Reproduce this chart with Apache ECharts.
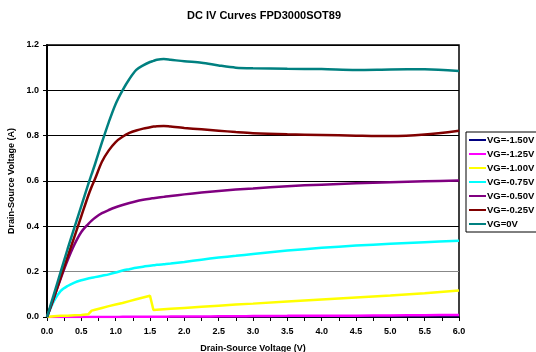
<!DOCTYPE html>
<html>
<head>
<meta charset="utf-8">
<script src="https://cdn.jsdelivr.net/npm/echarts@6/dist/echarts.min.js"></script>
<style>html,body{margin:0;padding:0;background:#fff}#c{width:536px;height:352px}</style>
</head>
<body>
<div id="c"></div>
<script>
var vds = [0,0.1,0.2,0.3,0.4,0.5,0.6,0.65,0.7,0.8,0.9,1.0,1.1,1.2,1.3,1.4,1.5,1.55,1.6,1.7,1.8,2.0,2.25,2.5,2.75,3.0,3.5,4.0,4.5,5.0,5.5,6.0];
var vgM150 = [0,0,0,0,0,0,0,0,0,0,0,0,0,0,0,0,0,0,0,0,0,0,0,0,0,0,0,0,0,0,0,0];
var vgM125 = [0,0,0,0,0,0,0,0,0,0,0,0,0.001,0.001,0.001,0.001,0.001,0.001,0.001,0.001,0.002,0.002,0.002,0.003,0.003,0.004,0.005,0.006,0.006,0.007,0.008,0.009];
var vgM100 = [0,0.003,0.005,0.006,0.008,0.009,0.012,0.028,0.032,0.04,0.048,0.055,0.062,0.07,0.078,0.086,0.094,0.031,0.032,0.034,0.036,0.04,0.045,0.05,0.055,0.059,0.068,0.077,0.086,0.095,0.105,0.117];
var vgM075 = [0,0.07,0.115,0.137,0.152,0.162,0.17,0.173,0.176,0.182,0.188,0.196,0.205,0.211,0.217,0.222,0.226,0.228,0.23,0.233,0.236,0.243,0.253,0.262,0.27,0.278,0.293,0.305,0.315,0.323,0.33,0.336];
var vgM050 = [0,0.085,0.17,0.25,0.32,0.375,0.41,0.425,0.438,0.458,0.472,0.484,0.494,0.503,0.511,0.517,0.522,0.524,0.526,0.53,0.534,0.541,0.549,0.556,0.562,0.567,0.577,0.584,0.59,0.595,0.599,0.602];
var vgM025 = [0,0.085,0.175,0.265,0.355,0.445,0.535,0.575,0.61,0.685,0.735,0.772,0.795,0.812,0.823,0.831,0.837,0.84,0.842,0.843,0.84,0.834,0.828,0.822,0.816,0.811,0.806,0.803,0.8,0.798,0.805,0.822];
var vg0 = [0,0.1,0.2,0.3,0.395,0.49,0.585,0.63,0.675,0.77,0.86,0.94,1.0,1.05,1.09,1.11,1.125,1.13,1.135,1.138,1.135,1.128,1.122,1.11,1.1,1.097,1.095,1.094,1.09,1.092,1.093,1.085];
var seriesNames = ['VG=-1.50V','VG=-1.25V','VG=-1.00V','VG=-0.75V','VG=-0.50V','VG=-0.25V','VG=0V'];
var seriesData = [vgM150, vgM125, vgM100, vgM075, vgM050, vgM025, vg0];
var colors = ['#000080','#FF00FF','#FFFF00','#00FFFF','#800080','#800000','#008080'];
var widths = [1,2.5,2.5,2.5,2.5,2.5,2.5];

var font = 'Liberation Sans, Arial, sans-serif';
var chart = echarts.init(document.getElementById('c'));
var series = seriesNames.map(function(n, i){
  return {
    name: n, type: 'line', symbol: 'none', smooth: i === 2 ? false : 0.3,
    data: vds.map(function(x, j){ return [x, seriesData[i][j]]; }),
    lineStyle: {color: colors[i], width: widths[i]},
    itemStyle: {color: colors[i]},
    animation: false
  };
});
chart.setOption({
  animation: false,
  backgroundColor: '#fff',
  title: {
    text: 'DC IV Curves FPD3000SOT89', left: 182, top: 5,
    textStyle: {fontFamily: font, fontSize: 11, fontWeight: 'bold', color: '#000'}
  },
  grid: {left: 47, top: 45, width: 412, height: 272, show: true, borderColor: '#000', borderWidth: 1.5, backgroundColor: '#fff', containLabel: false, outerBoundsMode: 'none'},
  legend: {
    orient: 'vertical', left: 466, top: 132,
    data: seriesNames,
    itemWidth: 17, itemHeight: 10, itemGap: 4,
    padding: [3, 20, 3, 2],
    borderColor: '#000', borderWidth: 1,
    itemStyle: {opacity: 0},
    textStyle: {fontFamily: font, fontSize: 9.5, fontWeight: 'bold', color: '#000', lineHeight: 10, padding: [0,0,0,-4]}
  },
  xAxis: {
    type: 'value', min: 0, max: 6, interval: 0.25,
    name: 'Drain-Source Voltage (V)', nameLocation: 'middle', nameGap: 27,
    nameTextStyle: {fontFamily: font, fontSize: 9, fontWeight: 'bold', color: '#000'},
    axisLine: {show: true, lineStyle: {color: '#000', width: 1.5}},
    axisTick: {show: true, length: 4, lineStyle: {color: '#000'}},
    axisLabel: {
      fontFamily: font, fontSize: 9, fontWeight: 'bold', color: '#000', margin: 10,
      formatter: function(v){ return Math.abs(v*2 - Math.round(v*2)) < 1e-6 ? v.toFixed(1) : ''; }
    },
    splitLine: {show: false}
  },
  yAxis: {
    type: 'value', min: 0, max: 1.2, interval: 0.2,
    name: 'Drain-Source Voltage (A)', nameLocation: 'middle', nameGap: 30,
    nameTextStyle: {fontFamily: font, fontSize: 9, fontWeight: 'bold', color: '#000'},
    axisLine: {show: true, lineStyle: {color: '#000', width: 2}},
    axisTick: {show: true, length: 4, lineStyle: {color: '#000'}},
    axisLabel: {
      fontFamily: font, fontSize: 9, fontWeight: 'bold', color: '#000', margin: 8,
      formatter: function(v){ return v.toFixed(1); }
    },
    splitLine: {show: true, lineStyle: {color: ['#000','#888','#000','#000','#000','#000','#000'], width: 1}}
  },
  series: series
});
</script>
</body>
</html>
